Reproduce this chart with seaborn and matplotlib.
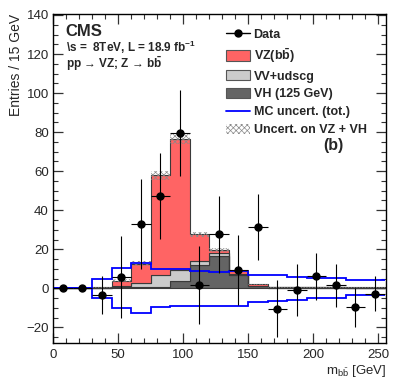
import numpy as np
import pandas as pd
import seaborn as sns
import matplotlib
matplotlib.use("Agg")
import matplotlib.pyplot as plt
from matplotlib.lines import Line2D
from matplotlib.patches import Patch
from matplotlib.ticker import MultipleLocator

# 15 GeV bins in m_bb
edges = np.arange(0, 256, 15)
centers = edges[:-1] + 7.5

# observed (background subtracted) data and its errors
data = [0, 0, -3.4, 5.8, 33.0, 47.3, 79.4, 1.5, 27.6, 9.3, 31.3, -10.4, -1.0, 6.1, 1.5, -9.7, -2.8]
data_err = [0, 0, 9.5, 20.9, 23.0, 22.0, 22.0, 20.0, 19.5, 18.0, 17.0, 14.5, 13.4, 12.0, 11.0, 10.0, 9.0]

# stacked contributions
vh = [0, 0, 0.2, 0.5, 0.6, 0.8, 4.0, 12.2, 16.8, 7.0, 1.0, 0.4, 0.4, 0.4, 0.4, 0.3, 0.3]
vv = [0, 0, 0.1, 0.7, 2.0, 6.1, 5.3, 2.0, 1.4, 0.5, 0.2, 0.1, 0.05, 0.05, 0.05, 0.1, 0.1]
vz = [0, 0, 0.2, 2.6, 10.1, 50.9, 67.4, 13.4, 1.3, 1.2, 0.8, 0.1, 0.05, 0.05, 0.05, 0.1, 0.1]
sig_unc = [0, 0, 0.3, 0.8, 1.4, 2.2, 2.6, 1.3, 0.9, 0.5, 0.3, 0.2, 0.2, 0.2, 0.2, 0.2, 0.2]

# total MC uncertainty band (blue)
mc_up = [0, 0, 5.0, 10.3, 13.2, 9.8, 10.1, 8.9, 8.6, 9.1, 7.0, 6.7, 6.0, 5.3, 5.3, 4.3, 4.1]
mc_dn = [0, 0, -4.8, -10.0, -12.5, -9.6, -9.1, -9.0, -8.8, -8.9, -6.8, -6.7, -5.8, -5.1, -5.0, -3.6, -3.3]

c_vz, c_vv, c_vh = "#ff6464", "#cbcbcb", "#646464"

sns.set_style("ticks")
plt.rcParams["font.family"] = ["Liberation Sans", "DejaVu Sans"]
plt.rcParams["mathtext.fontset"] = "custom"
plt.rcParams["mathtext.rm"] = "Liberation Sans"
plt.rcParams["mathtext.bf"] = "Liberation Sans:bold"
plt.rcParams["hatch.linewidth"] = 0.5

fig = plt.figure(figsize=(4.07, 3.91), dpi=100)
ax = fig.add_axes([53 / 407, 1 - 343 / 391, 333 / 407, 329 / 391])

df = pd.DataFrame({
    "mbb": np.tile(centers, 3),
    "w": np.concatenate([vz, vv, vh]),
    "proc": np.repeat(["VZ", "VV", "VH"], len(centers)),
})
sns.histplot(data=df, x="mbb", weights="w", hue="proc", hue_order=["VZ", "VV", "VH"],
             multiple="stack", bins=edges.tolist(), element="step", alpha=1,
             palette={"VZ": c_vz, "VV": c_vv, "VH": c_vh},
             edgecolor="#3a3a3a", linewidth=0.8, legend=False, ax=ax)

total = np.array(vz) + np.array(vv) + np.array(vh)
unc = np.array(sig_unc)
ax.bar(edges[:-1], 2 * unc, bottom=total - unc, width=15, align="edge",
       fill=False, hatch="xxxxxx", edgecolor="#8a8a8a", linewidth=0)

ax.stairs(mc_up, edges, baseline=None, color="#0000ff", lw=1.3)
ax.stairs(mc_dn, edges, baseline=None, color="#0000ff", lw=1.3)

ax.errorbar(centers, data, xerr=7.5, yerr=data_err, fmt="o", color="black",
            ms=5, elinewidth=0.8, capsize=0)

ax.set_xlim(0, 256)
ax.set_ylim(-28, 140.5)
ax.xaxis.set_major_locator(MultipleLocator(50))
ax.xaxis.set_minor_locator(MultipleLocator(10))
ax.yaxis.set_major_locator(MultipleLocator(20))
ax.yaxis.set_minor_locator(MultipleLocator(5))
ax.tick_params(which="both", direction="in", top=True, right=True, labelsize=9.5, color="#333333")
ax.tick_params(which="major", length=7, width=0.9)
ax.tick_params(which="minor", length=3.5, width=0.8)
ax.tick_params(axis="y", pad=3)
ax.tick_params(axis="x", pad=4)
for s in ax.spines.values():
    s.set_linewidth(1.0)
    s.set_color("black")

ax.set_ylabel("Entries / 15 GeV", loc="top", fontsize=10)
ax.yaxis.set_label_coords(-0.09, 1.0)
ax.set_xlabel(r"m$_{\mathrm{b\bar{b}}}$ [GeV]", loc="right", fontsize=9.5, labelpad=0)
ax.xaxis.set_label_coords(1.0, -0.062)

fig.text(65 / 407, 1 - 31 / 391, "CMS", fontsize=12, fontweight="bold", va="center")
fig.text(66 / 407, 1 - 47 / 391, r"\s =  8TeV, L = 18.9 fb$^{\mathbf{-1}}$",
         fontsize=8.5, fontweight="bold", va="center")
fig.text(66 / 407, 1 - 64 / 391, "pp \u2192 VZ; Z \u2192 b" + r"$\mathbf{\bar{b}}$",
         fontsize=8.5, fontweight="bold", va="center")
fig.text(333 / 407, 1 - 145 / 391, "(b)", fontsize=11.5, fontweight="bold", ha="center", va="center")

handles = [
    Line2D([], [], color="black", marker="o", ms=5, lw=1),
    Patch(facecolor=c_vz, edgecolor="#555555", lw=0.8),
    Patch(facecolor=c_vv, edgecolor="#555555", lw=0.8),
    Patch(facecolor=c_vh, edgecolor="#555555", lw=0.8),
    Line2D([], [], color="#0000ff", lw=1.3),
    Patch(facecolor="white", hatch="xxxxxx", edgecolor="#8a8a8a", lw=0),
]
labels = ["Data", r"VZ(b$\mathbf{\bar{b}}$)", "VV+udscg", "VH (125 GeV)",
          "MC uncert. (tot.)", "Uncert. on VZ + VH"]
fig.legend(handles, labels, loc="upper left", bbox_to_anchor=(226 / 407, 1 - 28 / 391),
           frameon=False, prop={"weight": "bold", "size": 9}, handlelength=1.9,
           handleheight=0.9, handletextpad=0.3, labelspacing=0.43, borderpad=0,
           borderaxespad=0)

fig.savefig("out.png", dpi=100)
